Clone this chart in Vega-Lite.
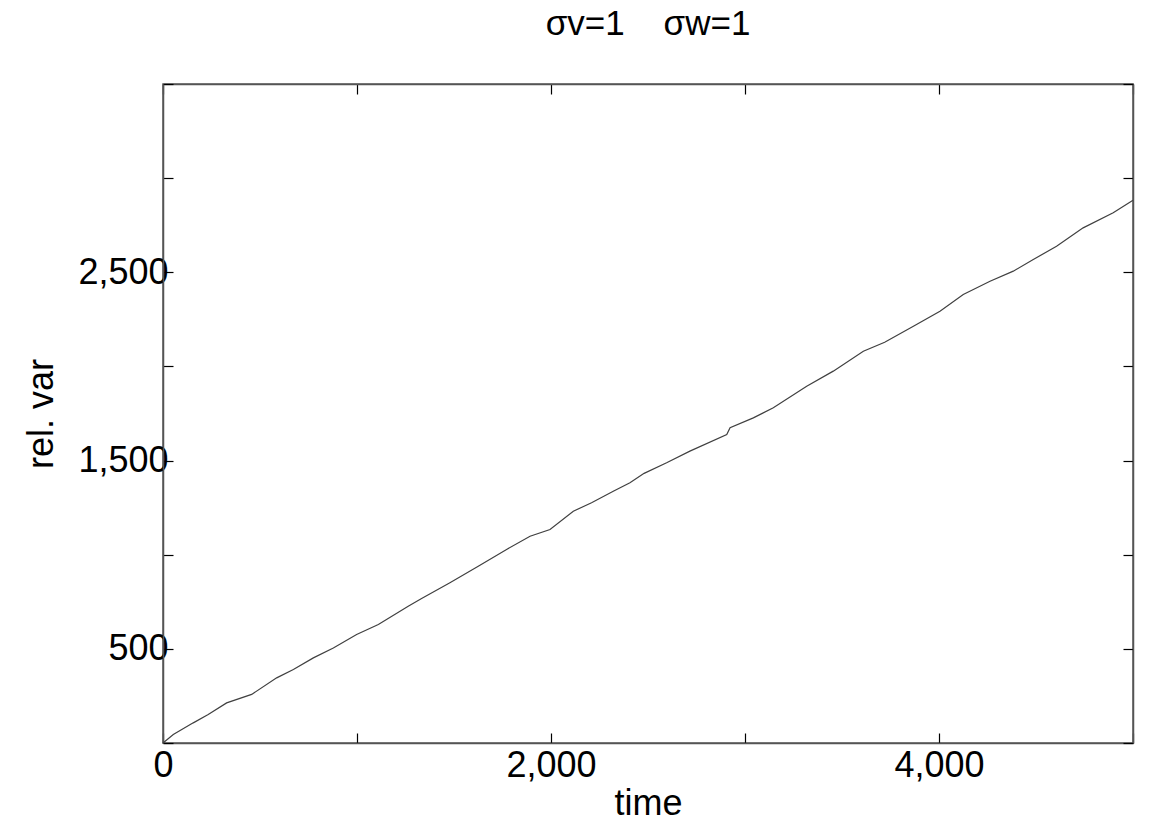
{
  "$schema": "https://vega.github.io/schema/vega-lite/v6.json",
  "width": 970,
  "height": 659,
  "autosize": {"type": "none"},
  "padding": {"left": 163, "top": 84, "right": 37, "bottom": 84},
  "background": "white",
  "config": {
    "font": "Liberation Sans",
    "view": {"stroke": "#555555", "strokeWidth": 1.5},
    "axis": {
      "grid": false,
      "domainColor": "#555555",
      "domainWidth": 1.5,
      "tickColor": "black",
      "tickWidth": 1.2,
      "tickSize": -10,
      "labelFont": "Liberation Sans",
      "labelFontSize": 36,
      "labelColor": "black",
      "titleFont": "Liberation Sans",
      "titleFontSize": 36,
      "titleFontWeight": "normal",
      "titleColor": "black"
    }
  },
  "title": {
    "text": "σv=1\u00a0\u00a0\u00a0\u00a0σw=1",
    "font": "Liberation Sans",
    "fontSize": 35,
    "fontWeight": "normal",
    "color": "black",
    "anchor": "middle",
    "offset": 24
  },
  "data": {
    "values": [
      {"time": 0, "relvar": 0},
      {"time": 53, "relvar": 45},
      {"time": 156, "relvar": 107},
      {"time": 233, "relvar": 151},
      {"time": 328, "relvar": 213},
      {"time": 457, "relvar": 258},
      {"time": 586, "relvar": 346},
      {"time": 672, "relvar": 390},
      {"time": 775, "relvar": 452},
      {"time": 878, "relvar": 505},
      {"time": 998, "relvar": 576},
      {"time": 1110, "relvar": 629},
      {"time": 1264, "relvar": 726},
      {"time": 1333, "relvar": 767},
      {"time": 1479, "relvar": 851},
      {"time": 1625, "relvar": 939},
      {"time": 1771, "relvar": 1028},
      {"time": 1892, "relvar": 1098},
      {"time": 1995, "relvar": 1134},
      {"time": 2115, "relvar": 1231},
      {"time": 2209, "relvar": 1276},
      {"time": 2321, "relvar": 1337},
      {"time": 2407, "relvar": 1382},
      {"time": 2480, "relvar": 1432},
      {"time": 2596, "relvar": 1488},
      {"time": 2716, "relvar": 1550},
      {"time": 2906, "relvar": 1638},
      {"time": 2923, "relvar": 1674},
      {"time": 3043, "relvar": 1727},
      {"time": 3146, "relvar": 1780},
      {"time": 3318, "relvar": 1895},
      {"time": 3455, "relvar": 1975},
      {"time": 3610, "relvar": 2081},
      {"time": 3720, "relvar": 2128},
      {"time": 3868, "relvar": 2213},
      {"time": 4005, "relvar": 2293},
      {"time": 4125, "relvar": 2382},
      {"time": 4263, "relvar": 2452},
      {"time": 4383, "relvar": 2506},
      {"time": 4486, "relvar": 2568},
      {"time": 4606, "relvar": 2638},
      {"time": 4743, "relvar": 2736},
      {"time": 4898, "relvar": 2816},
      {"time": 5000, "relvar": 2883}
    ]
  },
  "layer": [
    {
      "mark": {"type": "line", "color": "#404040", "strokeWidth": 1.2},
      "encoding": {
        "x": {
          "field": "time",
          "type": "quantitative",
          "scale": {"domain": [0, 5000], "nice": false},
          "axis": {
            "orient": "bottom",
            "title": "time",
            "values": [0, 1000, 2000, 3000, 4000, 5000],
            "labelExpr": "datum.value % 2000 == 0 && datum.value < 5000 ? format(datum.value, ',') : ''",
            "labelFlush": false,
            "labelOverlap": false,
            "labelPadding": 15,
            "titlePadding": 3
          }
        },
        "y": {
          "field": "relvar",
          "type": "quantitative",
          "scale": {"domain": [0, 3500], "nice": false},
          "axis": {
            "orient": "left",
            "title": "rel. var",
            "values": [0, 500, 1000, 1500, 2000, 2500, 3000, 3500],
            "labelExpr": "datum.value % 1000 == 500 && datum.value < 3000 ? format(datum.value, ',') : ''",
            "labelFlush": false,
            "labelOverlap": false,
            "labelPadding": 5,
            "titlePadding": 17
          }
        }
      }
    },
    {
      "mark": {"type": "line", "strokeOpacity": 0},
      "encoding": {
        "x": {
          "field": "time",
          "type": "quantitative",
          "axis": {
            "orient": "top",
            "title": null,
            "labels": false,
            "values": [0, 1000, 2000, 3000, 4000, 5000]
          }
        },
        "y": {
          "field": "relvar",
          "type": "quantitative",
          "axis": {
            "orient": "right",
            "title": null,
            "labels": false,
            "values": [0, 500, 1000, 1500, 2000, 2500, 3000, 3500]
          }
        }
      }
    }
  ],
  "resolve": {"axis": {"x": "independent", "y": "independent"}}
}
